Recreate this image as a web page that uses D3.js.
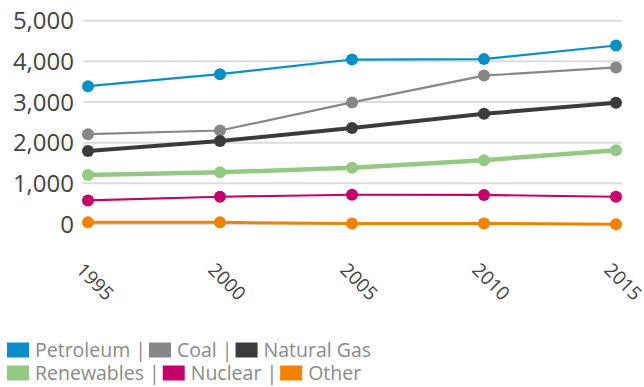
<!DOCTYPE html>
<meta charset="utf-8" />
<head>
  <script src="https://d3js.org/d3.v7.min.js"></script>
  <style>
    body { margin: 0; background: #fff; }
    svg { display: block; font-family: "Open Sans", sans-serif; }
  </style>
</head>
<body>
  <div id="chart"></div>
</body>
<script>
  // data (values in the chart's units)
  const years = [1995, 2000, 2005, 2010, 2015];
  const names = ["Petroleum", "Coal", "Natural Gas", "Renewables", "Nuclear", "Other"];
  const colors = ["#0a8ec8", "#878787", "#3b3b3d", "#94c984", "#c6006b", "#f08200"];
  const petroleum = [3390, 3685, 4045, 4055, 4390];
  const coal = [2210, 2300, 2990, 3650, 3850];
  const naturalGas = [1795, 2040, 2360, 2710, 2980];
  const renewables = [1205, 1270, 1385, 1570, 1815];
  const nuclear = [580, 670, 720, 715, 670];
  const other = [40, 40, 15, 15, -5];
  const yTicks = [0, 1000, 2000, 3000, 4000, 5000];

  const seriesValues = [petroleum, coal, naturalGas, renewables, nuclear, other];
  const widths = [2.2, 2.2, 4, 4.5, 2.2, 3];

  const W = 644, H = 387;
  const svg = d3.select("#chart").append("svg")
    .attr("width", W).attr("height", H);

  var x = d3.scaleLinear().domain([1995, 2015]).range([88, 616]);
  var y = d3.scaleLinear().domain([0, 5000]).range([224, 20.7]);

  // grid
  svg.append("g").selectAll("line").data(yTicks).enter().append("line")
    .attr("x1", x(1995) - 5).attr("x2", x(2015) + 6)
    .attr("y1", (d) => y(d)).attr("y2", (d) => y(d))
    .attr("stroke", "#dcdcdc").attr("stroke-width", 2);

  // y labels
  svg.append("g").selectAll("text").data(yTicks).enter().append("text")
    .attr("x", 74).attr("y", (d) => y(d))
    .attr("dy", "0.36em")
    .attr("text-anchor", "end")
    .style("font-size", "24px")
    .style("fill", "#444")
    .text((d) => d3.format(",")(d));

  // x labels, rotated
  svg.append("g").selectAll("text").data(years).enter().append("text")
    .attr("transform", (d) => "translate(" + (x(d) - 13) + ",271) rotate(45)")
    .style("font-size", "19px")
    .style("fill", "#444")
    .text((d) => d);

  var line = d3.line().x((d, i) => x(years[i])).y((d) => y(d));

  seriesValues.forEach((vals, k) => {
    const g = svg.append("g");
    g.append("path").datum(vals)
      .attr("d", line)
      .attr("fill", "none")
      .attr("stroke", colors[k])
      .attr("stroke-width", widths[k]);
    g.selectAll("circle").data(vals).enter().append("circle")
      .attr("cx", (d, i) => x(years[i]))
      .attr("cy", (d) => y(d))
      .attr("r", 6)
      .attr("fill", colors[k]);
  });

  // legend, two rows
  const rows = [[0, 1, 2], [3, 4, 5]];
  const rowY = [350, 373];
  rows.forEach((row, r) => {
    let cx = 7;
    row.forEach((k, j) => {
      svg.append("rect")
        .attr("x", cx).attr("y", rowY[r] - 7.5)
        .attr("width", 22).attr("height", 15)
        .attr("fill", colors[k]);
      cx += 28;
      const t = svg.append("text")
        .attr("x", cx).attr("y", rowY[r])
        .attr("dy", "0.36em")
        .style("font-size", "19.5px")
        .style("fill", "#8a8a8a")
        .text(names[k] + (j < row.length - 1 ? " | " : ""));
      cx += t.node().getComputedTextLength() + 3;
    });
  });
</script>
